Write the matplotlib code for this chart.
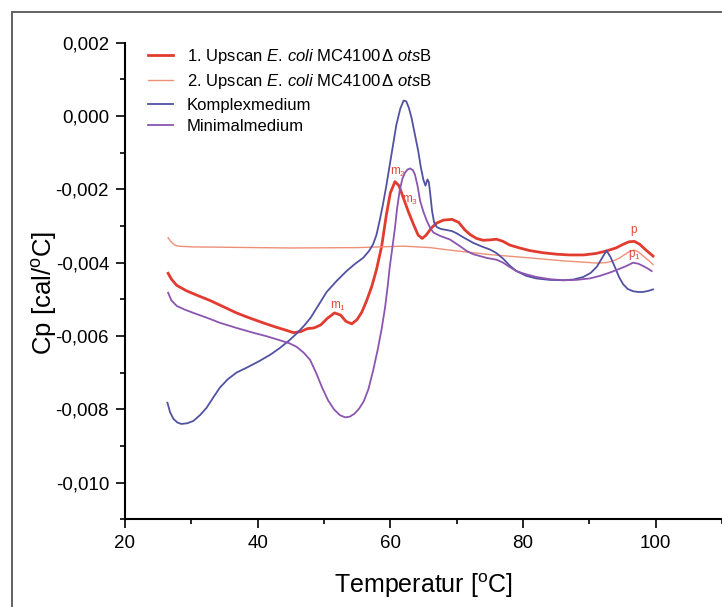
import matplotlib
matplotlib.use('Agg')
import matplotlib.pyplot as plt
from matplotlib.patches import Rectangle
from matplotlib.ticker import MultipleLocator, FuncFormatter

plt.rcParams['font.family'] = ['Liberation Sans', 'DejaVu Sans']
plt.rcParams['mathtext.fontset'] = 'custom'
plt.rcParams['mathtext.rm'] = 'Liberation Sans'
plt.rcParams['mathtext.it'] = 'Liberation Sans:italic'

# 1. Upscan E. coli MC4100 dotsB
t_up1 = [26.5, 27.0, 27.8, 29.3, 31.0, 32.8, 34.8, 36.8, 38.8, 40.8, 42.6, 44.4, 45.4,
         46.5, 47.5, 48.5, 49.5, 50.5, 51.6, 52.5, 53.3, 54.2, 55.0, 55.7, 56.4, 57.2,
         57.9, 58.7, 59.4, 60.0, 60.7, 61.3, 61.9, 62.7, 63.5, 64.2, 64.8, 65.4, 66.2,
         67.0, 68.0, 69.3, 70.3, 71.2, 72.0, 73.0, 74.0, 75.0, 76.0, 77.0, 78.0, 79.5,
         81.0, 83.0, 85.1, 87.0, 89.1, 91.0, 92.6, 94.0, 95.1, 96.0, 96.8, 97.6, 98.5, 99.6]
cp_up1 = [-0.00429, -0.00445, -0.00462, -0.00477, -0.00490, -0.00503, -0.00520, -0.00537,
          -0.00551, -0.00564, -0.00575, -0.00585, -0.00591, -0.00588, -0.00580, -0.00578,
          -0.00570, -0.00552, -0.00537, -0.00543, -0.00560, -0.00567, -0.00555, -0.00535,
          -0.00505, -0.00465, -0.00420, -0.00355, -0.00270, -0.00210, -0.00179, -0.00190,
          -0.00220, -0.00260, -0.00296, -0.00325, -0.00334, -0.00325, -0.00305, -0.00292,
          -0.00284, -0.00282, -0.00290, -0.00310, -0.00323, -0.00334, -0.00339, -0.00338,
          -0.00336, -0.00342, -0.00352, -0.00360, -0.00367, -0.00373, -0.00377, -0.00379,
          -0.00379, -0.00375, -0.00368, -0.00360, -0.00350, -0.00343, -0.00342, -0.00350,
          -0.00365, -0.00382]

# 2. Upscan
t_up2 = [26.5, 26.9, 27.4, 28.0, 30.0, 35.0, 45.0, 55.0, 62.0, 66.0, 70.0, 75.0, 81.0,
         86.0, 91.1, 92.5, 93.5, 94.5, 95.5, 96.2, 96.8, 97.4, 98.2, 99.0, 99.6]
cp_up2 = [-0.00332, -0.00342, -0.00351, -0.00355, -0.00357, -0.00358, -0.00360, -0.00359,
          -0.00355, -0.00359, -0.00368, -0.00378, -0.00387, -0.00395, -0.00401, -0.00400,
          -0.00396, -0.00388, -0.00376, -0.00368, -0.00366, -0.00371, -0.00383, -0.00395,
          -0.00405]

# Komplexmedium
t_kom = [26.4, 26.8, 27.3, 27.9, 28.5, 29.4, 30.3, 31.3, 32.3, 33.3, 34.3, 35.5, 36.8,
         38.5, 40.3, 42.0, 43.4, 44.7, 45.9, 47.0, 48.0, 49.2, 50.4, 51.9, 53.4, 54.7,
         55.9, 56.8, 57.4, 57.9, 58.4, 58.9, 59.4, 59.9, 60.4, 60.9, 61.5, 62.0, 62.4,
         62.8, 63.2, 63.7, 64.2, 64.6, 65.0, 65.3, 65.6, 65.8, 66.0, 66.3, 66.6, 67.0,
         67.6, 68.5, 69.3, 70.0, 71.2, 72.5, 73.8, 75.0, 76.0, 77.0, 78.0, 79.0, 80.5,
         82.0, 84.0, 86.1, 87.6, 89.1, 90.2, 91.1, 91.9, 92.6, 93.2, 93.9, 94.5, 95.1,
         95.8, 96.6, 97.4, 98.1, 98.9, 99.6]
cp_kom = [-0.00782, -0.00808, -0.00826, -0.00836, -0.00840, -0.00838, -0.00832, -0.00816,
          -0.00796, -0.00768, -0.00741, -0.00718, -0.00700, -0.00685, -0.00668, -0.00650,
          -0.00632, -0.00613, -0.00593, -0.00572, -0.00550, -0.00515, -0.00480, -0.00450,
          -0.00423, -0.00403, -0.00387, -0.00368, -0.00350, -0.00325, -0.00285, -0.00240,
          -0.00190, -0.00135, -0.00080, -0.00025, 0.00020, 0.00042, 0.00040, 0.00022,
          -0.00005, -0.00050, -0.00095, -0.00140, -0.00175, -0.00190, -0.00173, -0.00180,
          -0.00210, -0.00260, -0.00290, -0.00303, -0.00308, -0.00311, -0.00314, -0.00320,
          -0.00333, -0.00346, -0.00356, -0.00364, -0.00374, -0.00389, -0.00408, -0.00423,
          -0.00436, -0.00443, -0.00447, -0.00448, -0.00446, -0.00439, -0.00428, -0.00412,
          -0.00388, -0.00367, -0.00385, -0.00414, -0.00440, -0.00459, -0.00472, -0.00478,
          -0.00480, -0.00480, -0.00477, -0.00473]

# Minimalmedium
t_min = [26.5, 27.0, 27.8, 29.0, 30.3, 32.3, 34.3, 36.8, 39.3, 41.4, 43.4, 44.8, 45.9,
         46.9, 47.9, 48.8, 49.7, 50.6, 51.5, 52.4, 53.2, 53.9, 54.6, 55.3, 56.0, 56.7,
         57.4, 58.1, 58.7, 59.2, 59.6, 59.9, 60.3, 60.7, 61.0, 61.4, 61.8, 62.2, 62.6,
         63.0, 63.4, 63.7, 64.1, 64.5, 65.0, 65.5, 66.0, 66.5, 67.5, 69.0, 70.5, 71.5,
         72.5, 74.5, 76.0, 77.0, 78.0, 79.0, 80.5, 82.0, 84.0, 86.1, 88.0, 90.1, 91.6,
         93.1, 94.4, 95.6, 96.6, 97.4, 98.1, 98.8, 99.4]
cp_min = [-0.00482, -0.00503, -0.00518, -0.00528, -0.00537, -0.00550, -0.00564, -0.00578,
          -0.00591, -0.00601, -0.00612, -0.00620, -0.00630, -0.00645, -0.00665, -0.00700,
          -0.00740, -0.00775, -0.00800, -0.00816, -0.00822, -0.00820, -0.00812, -0.00798,
          -0.00778, -0.00745, -0.00695, -0.00637, -0.00580, -0.00523, -0.00465, -0.00414,
          -0.00360, -0.00305, -0.00255, -0.00205, -0.00172, -0.00155, -0.00146, -0.00143,
          -0.00148, -0.00159, -0.00190, -0.00232, -0.00262, -0.00286, -0.00305, -0.00318,
          -0.00327, -0.00337, -0.00355, -0.00368, -0.00377, -0.00387, -0.00392, -0.00400,
          -0.00412, -0.00423, -0.00432, -0.00439, -0.00445, -0.00448, -0.00447, -0.00443,
          -0.00436, -0.00427, -0.00418, -0.00409, -0.00400, -0.00403, -0.00409, -0.00416,
          -0.00423]

peak_labels = ['m$_1$', 'm$_2$', 'm$_3$', 'p', 'p$_1$']
peak_t = [52.2, 61.2, 63.0, 96.6, 96.8]
peak_cp = [-0.0052, -0.00155, -0.0023, -0.0031, -0.0038]

fig = plt.figure(figsize=(7.22, 6.07), dpi=100)
ax = fig.add_axes([0.1731, 0.1445, 0.8269, 0.7852])

ax.plot(t_up1, cp_up1, color='#e23b30', lw=2.0,
        label='1. Upscan $\\mathit{E.}\\,\\mathit{coli}$ MC4100$\\,$\u0394 $\\mathit{ots}$B')
ax.plot(t_up2, cp_up2, color='#ee9078', lw=1.0,
        label='2. Upscan $\\mathit{E.}\\,\\mathit{coli}$ MC4100$\\,$\u0394 $\\mathit{ots}$B')
ax.plot(t_kom, cp_kom, color='#5252a2', lw=1.3, label='Komplexmedium')
ax.plot(t_min, cp_min, color='#8c55b0', lw=1.3, label='Minimalmedium')

for lab, tx, cy in zip(peak_labels, peak_t, peak_cp):
    ax.text(tx, cy, lab, color='#e04a3a', fontsize=8.5, ha='center', va='center')

ax.set_xlim(20, 110)
ax.set_ylim(-0.011, 0.002)
ax.xaxis.set_major_locator(MultipleLocator(20))
ax.xaxis.set_minor_locator(MultipleLocator(10))
ax.yaxis.set_major_locator(MultipleLocator(0.002))
ax.yaxis.set_minor_locator(MultipleLocator(0.001))
ax.yaxis.set_major_formatter(FuncFormatter(lambda v, p: f'{v:.3f}'.replace('.', ',').replace('-0,000', '0,000')))

for s in ['top', 'right']:
    ax.spines[s].set_visible(False)
for s in ['left', 'bottom']:
    ax.spines[s].set_linewidth(1.5)
ax.tick_params(which='major', direction='out', length=6.5, width=1.2, labelsize=13.5, pad=5)
ax.tick_params(which='minor', direction='out', length=3.5, width=1.2)

ax.set_xlabel('Temperatur [$^{\\mathrm{o}}$C]', fontsize=18)
ax.xaxis.set_label_coords(0.5, -0.109)
ax.set_ylabel('Cp [cal/$^{\\mathrm{o}}$C]', fontsize=18.5)
ax.yaxis.set_label_coords(-0.111, 0.475)

ax.legend(loc='upper left', bbox_to_anchor=(0.027, 1.005), frameon=False, fontsize=12,
          handlelength=1.5, handletextpad=0.85, labelspacing=0.38, borderaxespad=0)

fig.patches.append(Rectangle((12 / 722, -0.2), 2.0, 1.2 - 12 / 607,
                             transform=fig.transFigure, fill=False,
                             edgecolor='#555555', lw=1.3))

fig.savefig('out.png', dpi=100)
